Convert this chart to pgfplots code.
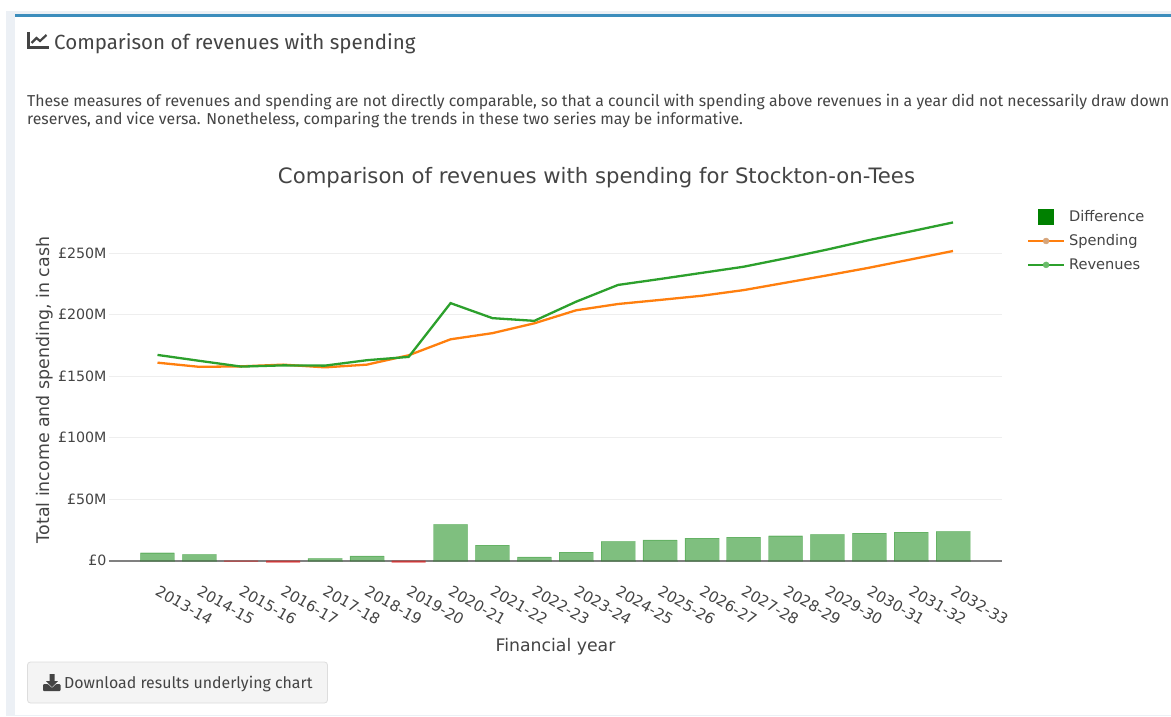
\documentclass[border=0pt]{standalone}
\usepackage{fontspec}
\setmainfont{DejaVu Sans}
\newfontfamily\html{Fira Sans}
\usepackage{pgfplots}
\pgfplotsset{compat=1.18}
\definecolor{txt}{HTML}{444444}
\definecolor{body}{HTML}{444444}
\definecolor{strip}{HTML}{ECF0F5}
\definecolor{topbar}{HTML}{3C8DBC}
\definecolor{gridc}{HTML}{EEEEEE}
\definecolor{zero}{HTML}{808080}
\definecolor{spend}{HTML}{FF7F0E}
\definecolor{reven}{HTML}{2CA02C}
\definecolor{diffg}{HTML}{008000}
\definecolor{diffr}{HTML}{E01E1E}
\definecolor{btn}{HTML}{F4F4F4}
\definecolor{btnb}{HTML}{DDDDDD}
\begin{document}
\begin{tikzpicture}[x=1pt,y=1pt]
\path[use as bounding box] (0,0) rectangle (1171,716);
\fill[white] (0,0) rectangle (1171,716);
% page frame
\fill[strip] (6,0) rectangle (1171,705);
\fill[white] (15,1) rectangle (1171,699);
\fill[topbar] (15,699) rectangle (1171,702);
% heading
\draw[txt,line width=2.4pt] (28.5,716-32) -- (28.5,716-47.5) -- (49,716-47.5);
\draw[txt,line width=2.2pt] (31.5,716-43) -- (36.5,716-38) -- (40,716-41) -- (46.5,716-35);
\node[anchor=west,inner sep=0pt,text=txt,font=\html\fontsize{20.5}{24}\selectfont] at (54,716-43.5) {Comparison of revenues with spending};
\node[anchor=west,inner sep=0pt,text=body,font=\html\fontsize{15.8}{18}\selectfont] at (27,716-102.5) {These measures of revenues and spending are not directly comparable, so that a council with spending above revenues in a year did not necessarily draw down};
\node[anchor=west,inner sep=0pt,text=body,font=\html\fontsize{15.8}{18}\selectfont] at (27,716-120.5) {reserves, and vice versa. Nonetheless, comparing the trends in these two series may be informative.};
% button
\draw[btnb,fill=btn,rounded corners=3pt,line width=0.8pt] (27.5,716-703) rectangle (327.5,716-662);
\fill[txt] (49.5,716-674) rectangle (54.5,716-681) -- (58,716-681) -- (52,716-687) -- (46,716-681) -- (49.5,716-681) -- cycle;
\fill[txt,rounded corners=1pt] (43,716-684) -- (48,716-684) -- (52,716-688) -- (56,716-684) -- (60.5,716-684) -- (60.5,716-691) -- (43,716-691) -- cycle;
\node[anchor=west,inner sep=0pt,text=txt,font=\html\fontsize{15.9}{18}\selectfont] at (64,716-684) {Download results underlying chart};
\begin{axis}[
  at={(109pt,149.15pt)}, anchor=south west,
  scale only axis, width=893pt, height=362.85pt,
  xmin=-1.158, xmax=20.17, ymin=-5, ymax=290,
  clip=false,
  axis line style={draw=none},
  tick style={draw=none},
  major tick length=0pt,
  ytick={0,50,100,150,200,250},
  yticklabels={£0,£50M,£100M,£150M,£200M,£250M},
  xtick={0,...,19},
  xticklabels={2013-14,2014-15,2015-16,2016-17,2017-18,2018-19,2019-20,2020-21,2021-22,2022-23,2023-24,2024-25,2025-26,2026-27,2027-28,2028-29,2029-30,2030-31,2031-32,2032-33},
  ymajorgrids, grid style={gridc,line width=1pt},
  tick label style={text=txt},
  yticklabel style={xshift=1pt,font=\fontsize{14.2}{16}\selectfont},
  xticklabel style={font=\fontsize{15}{16}\selectfont,xshift=-3.5pt,yshift=-21pt,rotate=-30,anchor=west},
  title={Comparison of revenues with spending for Stockton-on-Tees},
  title style={at={(axis description cs:0.5459,1.055)},anchor=center,text=txt,font=\fontsize{21.2}{24}\selectfont},
  xlabel={Financial year},
  xlabel style={at={(axis description cs:0.5,-0.2209)},anchor=center,text=txt,font=\fontsize{17.3}{20}\selectfont},
  ylabel={Total income and spending, in cash},
  ylabel style={at={(axis description cs:-0.0717,0.4874)},anchor=center,text=txt,font=\fontsize{17.4}{20}\selectfont},
  legend style={at={(axis description cs:1.0280,0.9873)},anchor=north west,draw=none,fill=none,
    inner sep=0pt,outer sep=0pt,row sep=7.5pt,font=\fontsize{14.6}{16}\selectfont,text=txt},
  legend cell align=left,
]
\draw[zero,line width=1.6pt] (axis cs:-1.158,0) -- (axis cs:20.17,0);
\addlegendimage{legend image code/.code={\fill[diffg] (10.5pt,-7.5pt) rectangle (25.5pt,7.5pt);\path[draw=none] (0pt,0pt) -- (39pt,0pt);}}
\addlegendentry{Difference}
\addlegendimage{legend image code/.code={\draw[spend,line width=2.2pt] (0pt,0pt) -- (36pt,0pt);\fill[spend!55!gray!70] (18pt,0pt) circle (3pt);\path[draw=none] (39pt,0pt) circle (0pt);}}
\addlegendentry{Spending}
\addlegendimage{legend image code/.code={\draw[reven,line width=2.2pt] (0pt,0pt) -- (36pt,0pt);\fill[reven!70] (18pt,0pt) circle (3pt);\path[draw=none] (39pt,0pt) circle (0pt);}}
\addlegendentry{Revenues}
\addplot[ybar,bar width=34pt,bar shift=0pt,draw=diffg,draw opacity=0.2,fill=diffg,fill opacity=0.5,forget plot] coordinates {
(0,6.5)(1,5.1)(4,1.9)(5,4.0)(7,29.5)(8,12.7)(9,3.2)(10,7.0)(11,15.7)(12,17.0)(13,18.4)(14,19.2)(15,20.3)(16,21.4)(17,22.5)(18,23.3)(19,23.8)};
\addplot[ybar,bar width=34pt,bar shift=0pt,draw=none,fill=diffr,fill opacity=0.7,forget plot] coordinates {
(2,-0.8)(3,-1.6)(6,-1.6)};
\addplot[spend,line width=2.3pt,forget plot] coordinates {
(0,161)(1,157.6)(2,158)(3,159.4)(4,157.2)(5,159.4)(6,167)(7,180)(8,185)(9,193)(10,203.6)(11,208.7)(12,212)(13,215.4)(14,220)(15,226)(16,232)(17,238.2)(18,245)(19,251.8)};
\addplot[reven,line width=2.3pt,forget plot] coordinates {
(0,167.3)(1,162.5)(2,157.8)(3,158.8)(4,158.6)(5,163)(6,165.7)(7,209.4)(8,197.2)(9,195)(10,210.6)(11,224.2)(12,229)(13,234)(14,239)(15,245.8)(16,253)(17,260.7)(18,267.8)(19,275)};
\end{axis}
\end{tikzpicture}
\end{document}
